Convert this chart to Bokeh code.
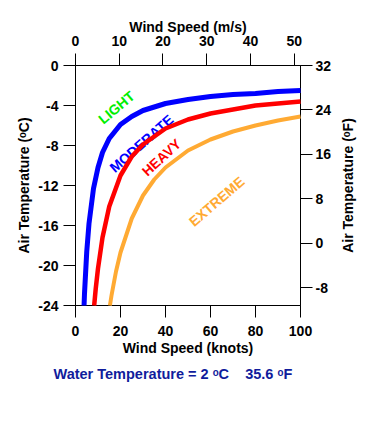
from bokeh.plotting import figure
from bokeh.models import Range1d, LinearAxis, FixedTicker, Label, Title
from bokeh.layouts import row
from bokeh.embed import file_html
from bokeh.resources import INLINE

# Boundary curves (wind speed in knots, air temperature in deg C)
light_knots = [3.8, 4, 5, 6, 8, 10, 12, 15, 20, 25, 30, 40, 50, 60, 70, 80, 90, 100]
light_temp = [-24.0, -22.8, -18.6, -15.8, -12.3, -10.2, -8.7, -7.3, -5.9, -5.1, -4.5, -3.8, -3.4, -3.1, -2.9, -2.8, -2.6, -2.5]

heavy_knots = [8.3, 9, 10, 12, 15, 20, 25, 30, 40, 50, 60, 70, 80, 90, 100]
heavy_temp = [-24.0, -22.3, -20.3, -17.2, -14.1, -11.0, -9.1, -7.9, -6.3, -5.4, -4.8, -4.4, -4.0, -3.8, -3.6]

extreme_knots = [15.3, 16, 18, 20, 25, 30, 35, 40, 50, 60, 70, 80, 90, 100]
extreme_temp = [-24.0, -23.0, -20.6, -18.7, -15.3, -13.0, -11.4, -10.2, -8.5, -7.4, -6.6, -6.0, -5.5, -5.1]

knot_ticks = [0, 20, 40, 60, 80, 100]
ms_ticks = [0, 10, 20, 30, 40, 50]
c_ticks = [0, -4, -8, -12, -16, -20, -24]
f_ticks = [32, 24, 16, 8, 0, -8]

FONT = "Liberation Sans"

p = figure(width=335, height=435, output_backend="svg", toolbar_location=None,
           x_range=Range1d(0, 100), y_range=Range1d(-24, 0),
           x_axis_location=None, y_axis_location=None,
           min_border_left=75, min_border_right=35, min_border_top=65, min_border_bottom=130)
p.extra_x_ranges = {"ms": Range1d(0, 100 * 0.514444)}
p.extra_y_ranges = {"f": Range1d(-24 * 1.8 + 32, 32)}
p.xgrid.visible = False
p.ygrid.visible = False
p.outline_line_color = "black"
p.outline_line_width = 1


def style(ax, ticks, label, standoff, label_standoff):
    ax.ticker = FixedTicker(ticks=ticks, minor_ticks=[])
    ax.major_label_overrides = {t: str(t) for t in ticks}
    ax.axis_label = label
    ax.major_tick_out = 12
    ax.major_tick_in = 0
    ax.axis_line_color = "black"
    ax.major_tick_line_color = "black"
    ax.major_label_text_font = FONT
    ax.major_label_text_font_size = "14px"
    ax.major_label_text_font_style = "bold"
    ax.major_label_text_color = "black"
    ax.axis_label_text_font = FONT
    ax.axis_label_text_font_size = "14px"
    ax.axis_label_text_font_style = "bold"
    ax.axis_label_text_color = "black"
    ax.major_label_standoff = standoff
    ax.axis_label_standoff = label_standoff


bottom = LinearAxis()
style(bottom, knot_ticks, "Wind Speed (knots)", 8, 1)
p.add_layout(bottom, "below")

top = LinearAxis(x_range_name="ms")
style(top, ms_ticks, "Wind Speed (m/s)", 8, -2)
p.add_layout(top, "above")

left = LinearAxis()
style(left, c_ticks, "Air Temperature (ᵒC)", 5, 3)
p.add_layout(left, "left")

right = LinearAxis(y_range_name="f")
style(right, f_ticks, None, 3, 0)
p.add_layout(right, "right")

p.add_layout(Title(text="Water Temperature = 2\u00a0ᵒC\u00a0\u00a0\u00a0\u00a035.6\u00a0ᵒF",
                   align="left", offset=-22, standoff=10,
                   text_color="#101c9c", text_font=FONT, text_font_size="14.5px",
                   text_font_style="bold"), "below")

for txt, x, y, col, ang in [
    ("LIGHT", 18.2, -4.2, "#00ee00", 0.70),
    ("MODERATE", 29.3, -7.8, "#0000ff", 0.72),
    ("HEAVY", 38.2, -9.2, "#ff0000", 0.74),
    ("EXTREME", 62.7, -13.6, "#ffaa33", 0.71),
]:
    p.add_layout(Label(x=x, y=y, text=txt, text_color=col, angle=ang,
                       text_align="center", text_baseline="middle",
                       text_font=FONT, text_font_size="14px", text_font_style="bold"))

# curves drawn last so that their frame clipping does not affect the axes and labels
p.line(light_knots, light_temp, line_color="#0000ff", line_width=5, level="overlay")
p.line(heavy_knots, heavy_temp, line_color="#ff0000", line_width=4.5, level="overlay")
p.line(extreme_knots, extreme_temp, line_color="#ffaa33", line_width=4, level="overlay")

# narrow companion panel carrying the deg F axis title, reading bottom-to-top
p2 = figure(width=40, height=435, output_backend="svg", toolbar_location=None,
            x_range=Range1d(0, 1), y_range=Range1d(-11.2, 32),
            x_axis_location=None, y_axis_location=None,
            min_border_left=22, min_border_right=0, min_border_top=65, min_border_bottom=130)
p2.xgrid.visible = False
p2.ygrid.visible = False
p2.outline_line_color = None
f_title = LinearAxis(ticker=FixedTicker(ticks=[], minor_ticks=[]),
                     axis_label="Air Temperature (ᵒF)",
                     axis_line_color=None, major_tick_line_color=None,
                     minor_tick_line_color=None, major_label_text_font_size="0px",
                     major_tick_out=0, major_tick_in=0, major_label_standoff=0,
                     axis_label_standoff=2,
                     axis_label_text_font=FONT, axis_label_text_font_size="14px",
                     axis_label_text_font_style="bold", axis_label_text_color="black")
p2.add_layout(f_title, "left")
p2.scatter([0.5], [0], size=0, alpha=0)

layout = row(p, p2, spacing=0)
open("out.html", "w").write(file_html(layout, INLINE))
